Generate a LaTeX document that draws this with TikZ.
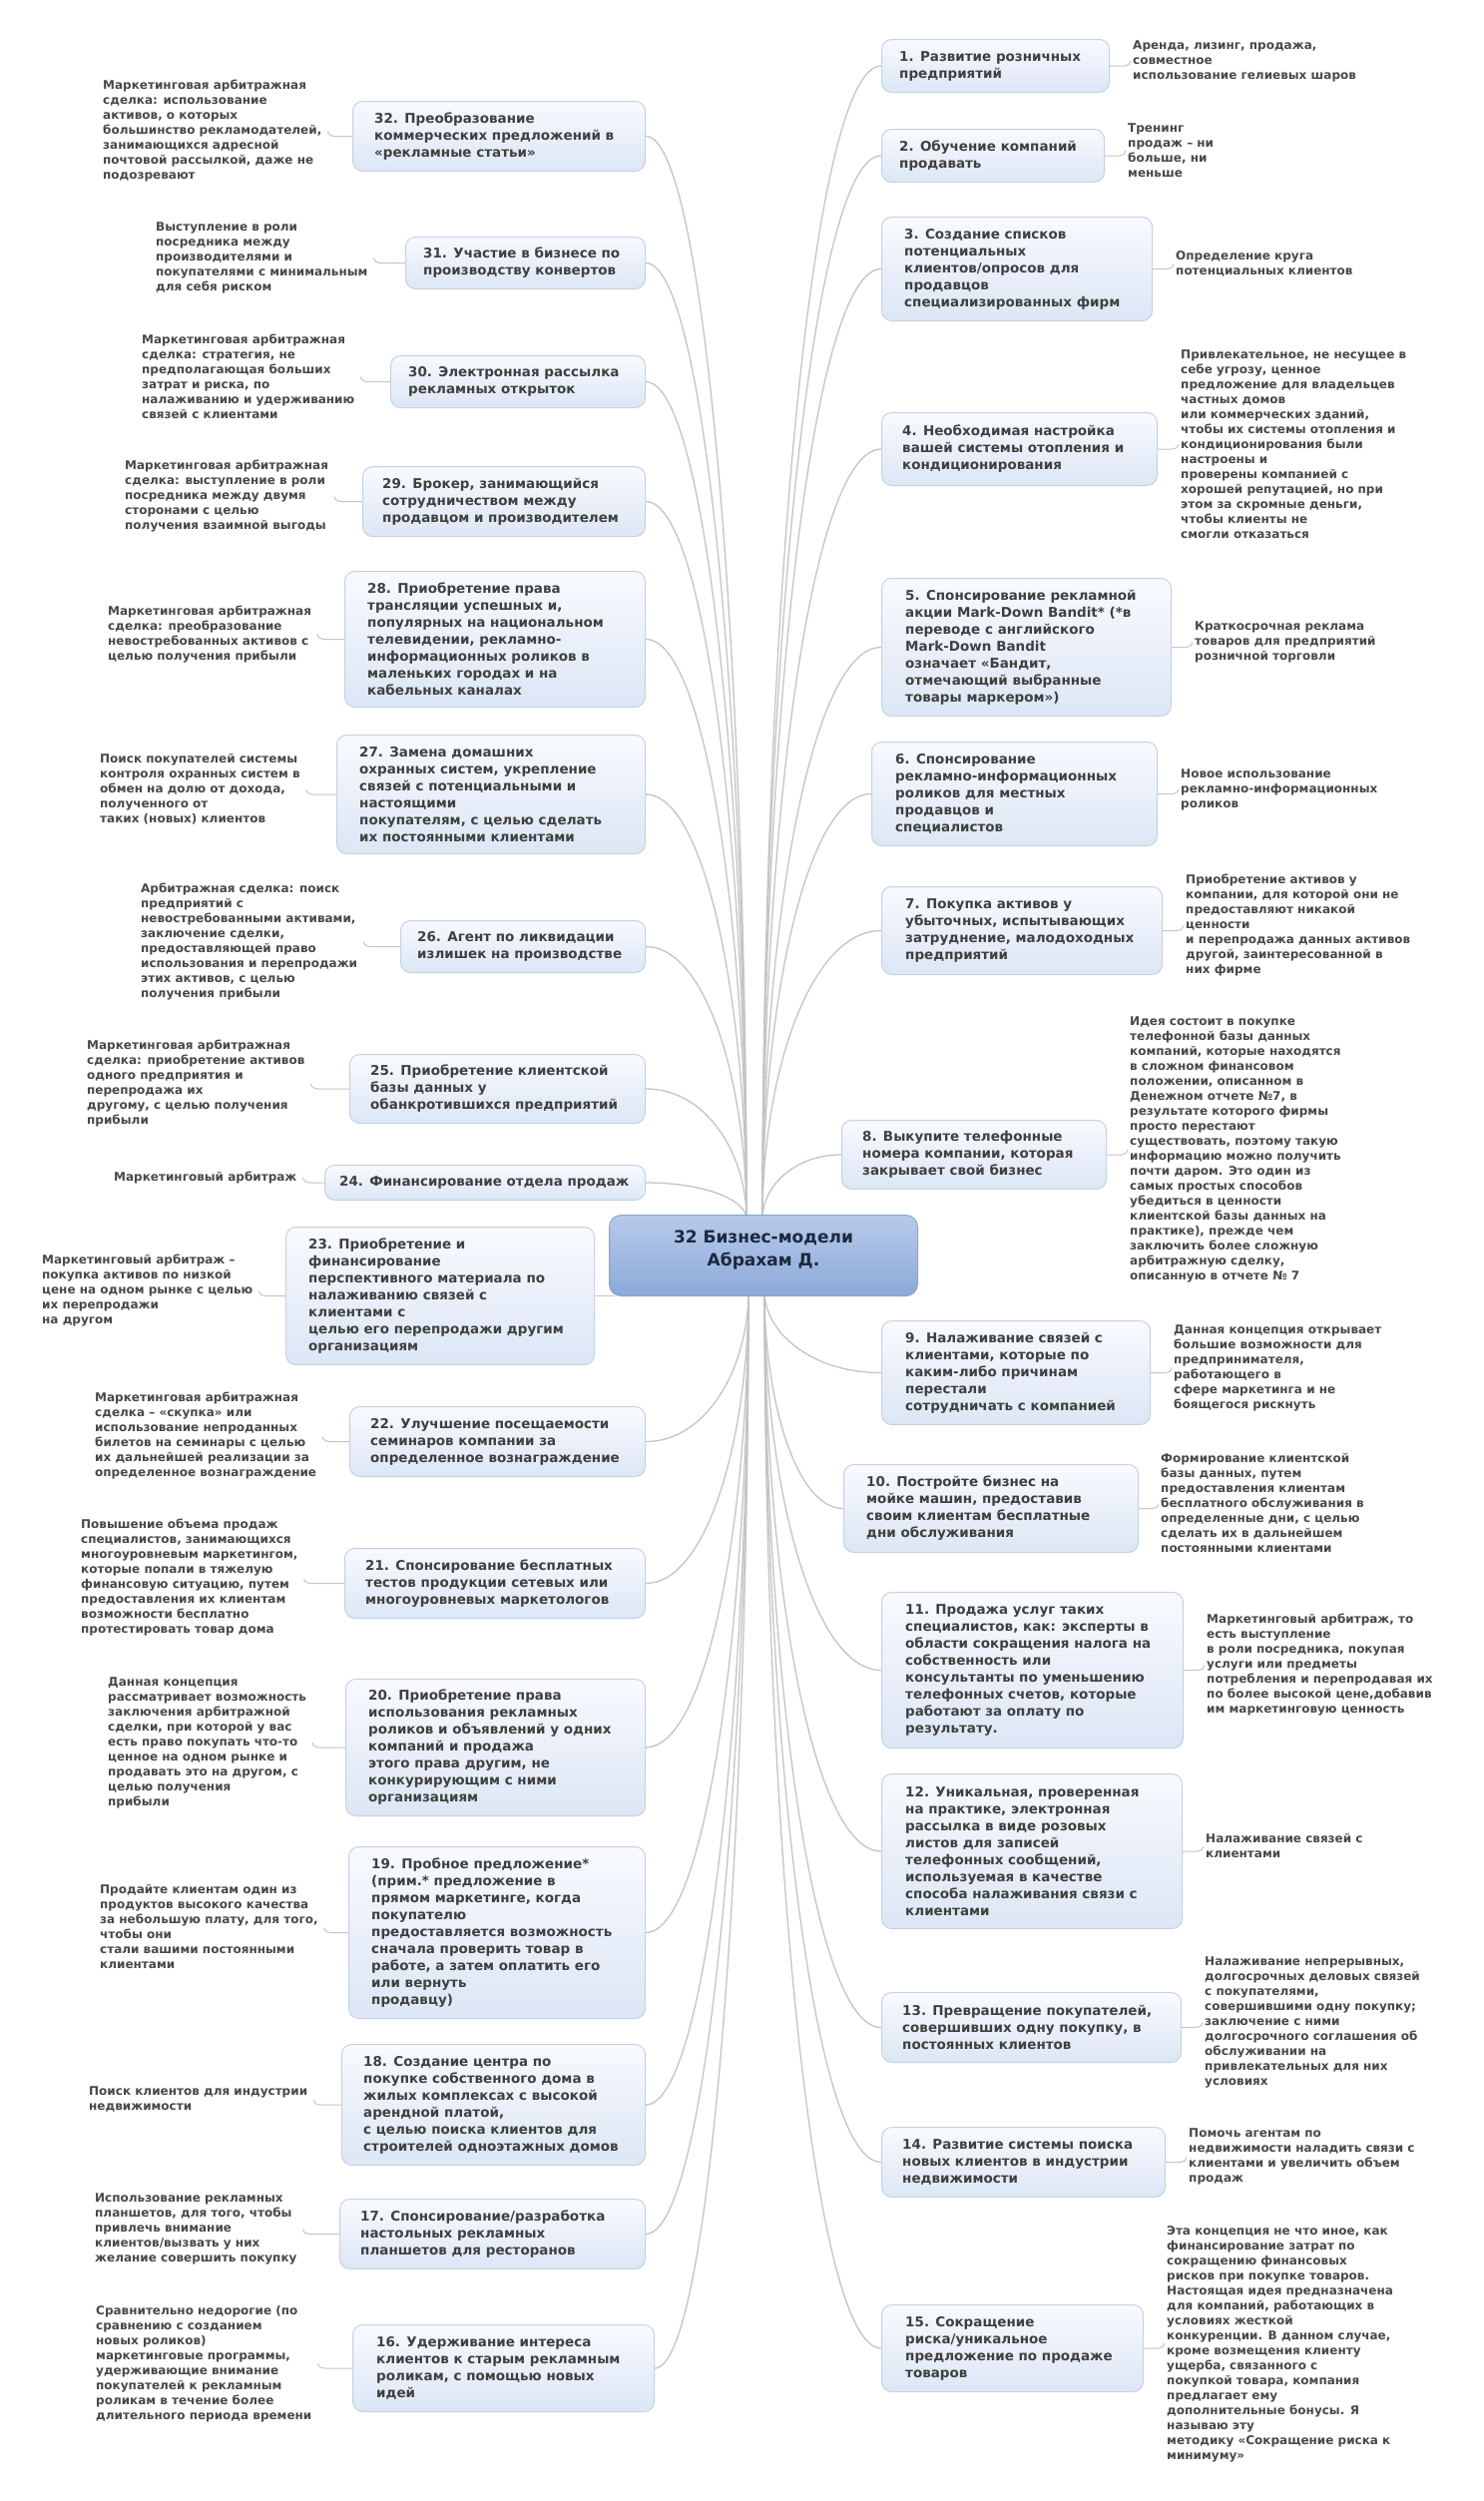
\documentclass[tikz,border=0pt]{standalone}
\usepackage{fontspec}
\setmainfont{DejaVu Sans}
\usetikzlibrary{calc}
\definecolor{boxdraw}{HTML}{C6D1E1}
\definecolor{boxtop}{HTML}{F8FAFE}
\definecolor{boxbot}{HTML}{DCE6F5}
\definecolor{ctop}{HTML}{B7CAEA}
\definecolor{cbot}{HTML}{8CA9D8}
\definecolor{cdraw}{HTML}{8AA3CC}
\definecolor{txt}{HTML}{404040}
\definecolor{anntxt}{HTML}{484848}
\definecolor{ctxt}{HTML}{1C2841}
\definecolor{linkc}{HTML}{C4C4C4}
\pgfdeclarelayer{bg}
\pgfsetlayers{bg,main}
\tikzset{
  box/.style={draw=boxdraw, line width=1pt, rounded corners=10pt, top color=boxtop, bottom color=boxbot, inner sep=0pt},
  cbox/.style={draw=cdraw, line width=1pt, rounded corners=12pt, top color=ctop, bottom color=cbot, inner sep=0pt},
  ntext/.style={align=left, inner sep=0pt, text=txt, font=\fontsize{13.5}{17}\selectfont\bfseries},
  ctext/.style={align=center, inner sep=0pt, text=ctxt, font=\fontsize{17}{23}\selectfont\bfseries},
  ann/.style={align=left, inner sep=0pt, text=anntxt, font=\fontsize{12}{15}\selectfont\bfseries},
  link/.style={draw=linkc, line width=1.3pt},
  hookln/.style={draw=linkc, line width=1pt}
}
% [pad]{name}{x1}{y1}{x2}{y2}{text}
\newcommand\RBox[7][21]{%
  \node[box, anchor=north west, minimum width={#5-#3}, minimum height={#6-#4}] (#2) at (#3,#4) {};
  \node[ntext, anchor=west] (#2t) at ($(#2.west)+(#1,0)$) {#7};
}
\newcommand\Ann[4]{\node[ann, anchor=west] (#1) at (#2,#3) {#4};}
\newcommand\HookR[2]{\draw[hookln] (#1.east) -- ($(#1.east -| #2.west)+(-8,0)$) to[out=0,in=-90] ($(#1.east -| #2.west)+(-2,-5)$);}
\newcommand\HookL[2]{\draw[hookln] (#1.west) -- ($(#1.west -| #2.east)+(13,0)$) to[out=180,in=-90] ($(#1.west -| #2.east)+(6,-5)$);}
\newcommand\LinkRU[1]{\draw[link] (ctr) .. controls ($(ctr)!0.5!(ctr |- #1.west)$) and ($(ctr |- #1.west)!0.4!(#1.west)$) .. (#1.west);}
\newcommand\LinkRD[1]{\draw[link] (cbr) .. controls ($(cbr)!0.5!(cbr |- #1.west)$) and ($(cbr |- #1.west)!0.4!(#1.west)$) .. (#1.west);}
\newcommand\LinkLU[1]{\draw[link] (#1.east) .. controls ($(#1.east)!0.6!(ctl |- #1.east)$) and ($(ctl)!0.5!(ctl |- #1.east)$) .. (ctl);}
\newcommand\LinkLD[1]{\draw[link] (#1.east) .. controls ($(#1.east)!0.6!(cbl |- #1.east)$) and ($(cbl)!0.5!(cbl |- #1.east)$) .. (cbl);}
\begin{document}
\begin{tikzpicture}[x=1pt,y=-1pt]
\useasboundingbox (0,0) rectangle (1487,2506);

% centre
\node[cbox, anchor=north west, minimum width=309, minimum height=81] (c) at (610,1217) {};
\node[ctext] (ct) at ($(c.center)+(0,-6)$) {32 Бизнес-модели\\Абрахам Д.};
\coordinate (ctl) at (748,1221);
\coordinate (ctr) at (764,1221);
\coordinate (cbl) at (750,1294);
\coordinate (cbr) at (766,1294);

% right boxes
\RBox[18]{n1}{883}{39}{1111}{92}{1. Развитие розничных\\предприятий}
\RBox[18]{n2}{883}{129}{1106}{182}{2. Обучение компаний\\продавать}
\RBox[23]{n3}{883}{217}{1154}{321}{3. Создание списков\\потенциальных\\клиентов/опросов для\\продавцов\\специализированных фирм}
\RBox[21]{n4}{883}{413}{1159}{486}{4. Необходимая настройка\\вашей системы отопления и\\кондиционирования}
\RBox[24]{n5}{883}{579}{1173}{717}{5. Спонсирование рекламной\\акции Mark-Down Bandit* (*в\\переводе с английского\\Mark-Down Bandit\\означает «Бандит,\\отмечающий выбранные\\товары маркером»)}
\RBox[24]{n6}{873}{743}{1159}{847}{6. Спонсирование\\рекламно-информационных\\роликов для местных\\продавцов и\\специалистов}
\RBox[24]{n7}{883}{888}{1164}{976}{7. Покупка активов у\\убыточных, испытывающих\\затруднение, малодоходных\\предприятий}
\RBox[21]{n8}{843}{1122}{1108}{1191}{8. Выкупите телефонные\\номера компании, которая\\закрывает свой бизнес}
\RBox[24]{n9}{883}{1323}{1152}{1427}{9. Налаживание связей с\\клиентами, которые по\\каким-либо причинам\\перестали\\сотрудничать с компанией}
\RBox[23]{n10}{845}{1467}{1140}{1555}{10. Постройте бизнес на\\мойке машин, предоставив\\своим клиентам бесплатные\\дни обслуживания}
\RBox[24]{n11}{883}{1595}{1185}{1751}{11. Продажа услуг таких\\специалистов, как: эксперты в\\области сокращения налога на\\собственность или\\консультанты по уменьшению\\телефонных счетов, которые\\работают за оплату по\\результату.}
\RBox[24]{n12}{883}{1777}{1184}{1932}{12. Уникальная, проверенная\\на практике, электронная\\рассылка в виде розовых\\листов для записей\\телефонных сообщений,\\используемая в качестве\\способа налаживания связи с\\клиентами}
\RBox[21]{n13}{883}{1996}{1183}{2066}{13. Превращение покупателей,\\совершивших одну покупку, в\\постоянных клиентов}
\RBox[21]{n14}{883}{2131}{1167}{2201}{14. Развитие системы поиска\\новых клиентов в индустрии\\недвижимости}
\RBox[24]{n15}{883}{2309}{1145}{2396}{15. Сокращение\\риска/уникальное\\предложение по продаже\\товаров}

% left boxes
\RBox[22]{n32}{353}{101}{646}{171}{32. Преобразование\\коммерческих предложений в\\«рекламные статьи»}
\RBox[18]{n31}{406}{237}{646}{289}{31. Участие в бизнесе по\\производству конвертов}
\RBox[18]{n30}{391}{356}{646}{408}{30. Электронная рассылка\\рекламных открыток}
\RBox[20]{n29}{363}{467}{646}{537}{29. Брокер, занимающийся\\сотрудничеством между\\продавцом и производителем}
\RBox[23]{n28}{345}{572}{646}{708}{28. Приобретение права\\трансляции успешных и,\\популярных на национальном\\телевидении, рекламно-\\информационных роликов в\\маленьких городах и на\\кабельных каналах}
\RBox[23]{n27}{337}{736}{646}{855}{27. Замена домашних\\охранных систем, укрепление\\связей с потенциальными и\\настоящими\\покупателям, с целью сделать\\их постоянными клиентами}
\RBox[17]{n26}{401}{922}{646}{974}{26. Агент по ликвидации\\излишек на производстве}
\RBox[21]{n25}{350}{1056}{646}{1125}{25. Приобретение клиентской\\базы данных у\\обанкротившихся предприятий}
\RBox[15]{n24}{325}{1167}{646}{1202}{24. Финансирование отдела продаж}
\RBox[23]{n23}{286}{1229}{595}{1367}{23. Приобретение и\\финансирование\\перспективного материала по\\налаживанию связей с\\клиентами с\\целью его перепродажи другим\\организациям}
\RBox[21]{n22}{350}{1409}{646}{1479}{22. Улучшение посещаемости\\семинаров компании за\\определенное вознаграждение}
\RBox[21]{n21}{345}{1551}{646}{1621}{21. Спонсирование бесплатных\\тестов продукции сетевых или\\многоуровневых маркетологов}
\RBox[23]{n20}{346}{1682}{646}{1819}{20. Приобретение права\\использования рекламных\\роликов и объявлений у одних\\компаний и продажа\\этого права другим, не\\конкурирующим с ними\\организациям}
\RBox[23]{n19}{349}{1850}{646}{2022}{19. Пробное предложение*\\(прим.* предложение в\\прямом маркетинге, когда\\покупателю\\предоставляется возможность\\сначала проверить товар в\\работе, а затем оплатить его\\или вернуть\\продавцу)}
\RBox[22]{n18}{342}{2048}{646}{2169}{18. Создание центра по\\покупке собственного дома в\\жилых комплексах с высокой\\арендной платой,\\с целью поиска клиентов для\\строителей одноэтажных домов}
\RBox[21]{n17}{340}{2203}{646}{2273}{17. Спонсирование/разработка\\настольных рекламных\\планшетов для ресторанов}
\RBox[24]{n16}{353}{2329}{655}{2416}{16. Удерживание интереса\\клиентов к старым рекламным\\роликам, с помощью новых\\идей}

% right annotations
\Ann{a1}{1135}{61}{Аренда, лизинг, продажа,\\совместное\\использование гелиевых шаров}
\Ann{a2}{1130}{150.5}{Тренинг\\продаж – ни\\больше, ни\\меньше}
\Ann{a3}{1178}{264.5}{Определение круга\\потенциальных клиентов}
\Ann{a4}{1183}{445}{Привлекательное, не несущее в\\себе угрозу, ценное\\предложение для владельцев\\частных домов\\или коммерческих зданий,\\чтобы их системы отопления и\\кондиционирования были\\настроены и\\проверены компанией с\\хорошей репутацией, но при\\этом за скромные деньги,\\чтобы клиенты не\\смогли отказаться}
\Ann{a5}{1197}{643}{Краткосрочная реклама\\товаров для предприятий\\розничной торговли}
\Ann{a6}{1183}{791}{Новое использование\\рекламно-информационных\\роликов}
\Ann{a7}{1188}{927}{Приобретение активов у\\компании, для которой они не\\предоставляют никакой\\ценности\\и перепродажа данных активов\\другой, заинтересованной в\\них фирме}
\Ann{a8}{1132}{1151.5}{Идея состоит в покупке\\телефонной базы данных\\компаний, которые находятся\\в сложном финансовом\\положении, описанном в\\Денежном отчете №7, в\\результате которого фирмы\\просто перестают\\существовать, поэтому такую\\информацию можно получить\\почти даром. Это один из\\самых простых способов\\убедиться в ценности\\клиентской базы данных на\\практике), прежде чем\\заключить более сложную\\арбитражную сделку,\\описанную в отчете № 7}
\Ann{a9}{1176}{1370.5}{Данная концепция открывает\\большие возможности для\\предпринимателя,\\работающего в\\сфере маркетинга и не\\боящегося рискнуть}
\Ann{a10}{1163}{1506}{Формирование клиентской\\базы данных, путем\\предоставления клиентам\\бесплатного обслуживания в\\определенные дни, с целью\\сделать их в дальнейшем\\постоянными клиентами}
\Ann{a11}{1209}{1668}{Маркетинговый арбитраж, то\\есть выступление\\в роли посредника, покупая\\услуги или предметы\\потребления и перепродавая их\\по более высокой цене,добавив\\им маркетинговую ценность}
\Ann{a12}{1208}{1849.5}{Налаживание связей с\\клиентами}
\Ann{a13}{1207}{2026}{Налаживание непрерывных,\\долгосрочных деловых связей\\с покупателями,\\совершившими одну покупку;\\заключение с ними\\долгосрочного соглашения об\\обслуживании на\\привлекательных для них\\условиях}
\Ann{a14}{1191}{2160.5}{Помочь агентам по\\недвижимости наладить связи с\\клиентами и увеличить объем\\продаж}
\Ann{a15}{1169}{2348.5}{Эта концепция не что иное, как\\финансирование затрат по\\сокращению финансовых\\рисков при покупке товаров.\\Настоящая идея предназначена\\для компаний, работающих в\\условиях жесткой\\конкуренции. В данном случае,\\кроме возмещения клиенту\\ущерба, связанного с\\покупкой товара, компания\\предлагает ему\\дополнительные бонусы. Я\\называю эту\\методику «Сокращение риска к\\минимуму»}

% left annotations
\Ann{a32}{103}{131}{Маркетинговая арбитражная\\сделка: использование\\активов, о которых\\большинство рекламодателей,\\занимающихся адресной\\почтовой рассылкой, даже не\\подозревают}
\Ann{a31}{156}{258}{Выступление в роли\\посредника между\\производителями и\\покупателями с минимальным\\для себя риском}
\Ann{a30}{142}{377.5}{Маркетинговая арбитражная\\сделка: стратегия, не\\предполагающая больших\\затрат и риска, по\\налаживанию и удерживанию\\связей с клиентами}
\Ann{a29}{125}{497}{Маркетинговая арбитражная\\сделка: выступление в роли\\посредника между двумя\\сторонами с целью\\получения взаимной выгоды}
\Ann{a28}{108}{635.5}{Маркетинговая арбитражная\\сделка: преобразование\\невостребованных активов с\\целью получения прибыли}
\Ann{a27}{100}{791}{Поиск покупателей системы\\контроля охранных систем в\\обмен на долю от дохода,\\полученного от\\таких (новых) клиентов}
\Ann{a26}{141}{943.5}{Арбитражная сделка: поиск\\предприятий с\\невостребованными активами,\\заключение сделки,\\предоставляющей право\\использования и перепродажи\\этих активов, с целью\\получения прибыли}
\Ann{a25}{87}{1085.5}{Маркетинговая арбитражная\\сделка: приобретение активов\\одного предприятия и\\перепродажа их\\другому, с целью получения\\прибыли}
\Ann{a24}{114}{1180}{Маркетинговый арбитраж}
\Ann{a23}{42}{1293}{Маркетинговый арбитраж –\\покупка активов по низкой\\цене на одном рынке с целью\\их перепродажи\\на другом}
\Ann{a22}{95}{1438.5}{Маркетинговая арбитражная\\сделка – «скупка» или\\использование непроданных\\билетов на семинары с целью\\их дальнейшей реализации за\\определенное вознаграждение}
\Ann{a21}{81}{1580.5}{Повышение объема продаж\\специалистов, занимающихся\\многоуровневым маркетингом,\\которые попали в тяжелую\\финансовую ситуацию, путем\\предоставления их клиентам\\возможности бесплатно\\протестировать товар дома}
\Ann{a20}{108}{1746}{Данная концепция\\рассматривает возможность\\заключения арбитражной\\сделки, при которой у вас\\есть право покупать что-то\\ценное на одном рынке и\\продавать это на другом, с\\целью получения\\прибыли}
\Ann{a19}{100}{1930.5}{Продайте клиентам один из\\продуктов высокого качества\\за небольшую плату, для того,\\чтобы они\\стали вашими постоянными\\клиентами}
\Ann{a18}{89}{2103.5}{Поиск клиентов для индустрии\\недвижимости}
\Ann{a17}{95}{2233}{Использование рекламных\\планшетов, для того, чтобы\\привлечь внимание\\клиентов/вызвать у них\\желание совершить покупку}
\Ann{a16}{96}{2368.5}{Сравнительно недорогие (по\\сравнению с созданием\\новых роликов)\\маркетинговые программы,\\удерживающие внимание\\покупателей к рекламным\\роликам в течение более\\длительного периода времени}

\begin{pgfonlayer}{bg}
\fill[white] (0,0) rectangle (1487,2506);
\LinkRU{n1}\LinkRU{n2}\LinkRU{n3}\LinkRU{n4}\LinkRU{n5}\LinkRU{n6}\LinkRU{n7}\LinkRU{n8}
\LinkRD{n9}\LinkRD{n10}\LinkRD{n11}\LinkRD{n12}\LinkRD{n13}\LinkRD{n14}\LinkRD{n15}
\LinkLU{n32}\LinkLU{n31}\LinkLU{n30}\LinkLU{n29}\LinkLU{n28}\LinkLU{n27}\LinkLU{n26}\LinkLU{n25}\LinkLU{n24}
\LinkLD{n22}\LinkLD{n21}\LinkLD{n20}\LinkLD{n19}\LinkLD{n18}\LinkLD{n17}\LinkLD{n16}
\draw[link] (n23.east) -- ($(n23.east -| c.west)+(6,0)$);
\HookR{n1}{a1}\HookR{n2}{a2}\HookR{n3}{a3}\HookR{n4}{a4}\HookR{n5}{a5}\HookR{n6}{a6}\HookR{n7}{a7}\HookR{n8}{a8}
\HookR{n9}{a9}\HookR{n10}{a10}\HookR{n11}{a11}\HookR{n12}{a12}\HookR{n13}{a13}\HookR{n14}{a14}\HookR{n15}{a15}
\HookL{n32}{a32}\HookL{n31}{a31}\HookL{n30}{a30}\HookL{n29}{a29}\HookL{n28}{a28}\HookL{n27}{a27}\HookL{n26}{a26}\HookL{n25}{a25}\HookL{n24}{a24}
\HookL{n23}{a23}\HookL{n22}{a22}\HookL{n21}{a21}\HookL{n20}{a20}\HookL{n19}{a19}\HookL{n18}{a18}\HookL{n17}{a17}\HookL{n16}{a16}
\end{pgfonlayer}
\end{tikzpicture}
\end{document}
